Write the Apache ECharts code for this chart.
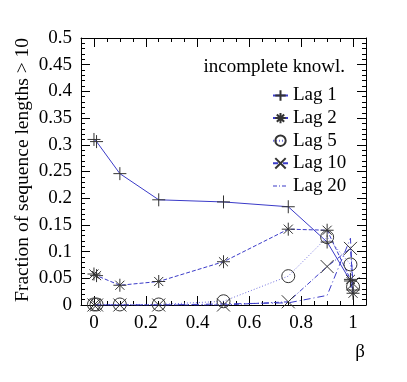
<!DOCTYPE html>
<html><head><meta charset="utf-8">
<script src="https://cdn.jsdelivr.net/npm/echarts@6/dist/echarts.min.js"></script>
<style>html,body{margin:0;padding:0;background:#fff}#c{width:407px;height:382px}</style>
</head><body><div id="c"></div>
<script>
var betas = [0, 0.01, 0.1, 0.25, 0.5, 0.75, 0.9, 0.99, 1];
var lag1  = [0.310, 0.306, 0.246, 0.197, 0.193, 0.184, 0.118, 0.045, 0.028];
var lag2  = [0.058, 0.055, 0.037, 0.044, 0.081, 0.142, 0.140, 0.048, 0.022];
var lag5  = [0.001, 0.001, 0.001, 0.001, 0.007, 0.054, 0.127, 0.076, 0.034];
var lag10 = [0.000, 0.000, 0.000, 0.000, 0.000, 0.006, 0.072, 0.106, 0.040];
var lag20 = [0.000, 0.000, 0.000, 0.000, 0.002, 0.004, 0.018, 0.125, 0.030];
var xMajor = [0, 0.2, 0.4, 0.6, 0.8, 1];
var seriesNames = ['Lag 1', 'Lag 2', 'Lag 5', 'Lag 10', 'Lag 20'];

function pairs(ys){ return betas.map(function(b,i){ return [b, ys[i]]; }); }
var FONT = 'Liberation Serif';
var BLUE = '#3a3ac8';
var LIGHT = '#7070dd';
var sym = {
  plus: 'path://M0,5L10,5M5,0L5,10',
  star: 'path://M0,5L10,5M5,0L5,10M1.5,1.5L8.5,8.5M8.5,1.5L1.5,8.5',
  cross: 'path://M0,0L10,10M10,0L0,10',
  dashIcon: 'path://M0,6h4v1h-4zM6,6h1v1h-1zM9,6h4v1h-4zM0,0h0.01v0.01h-0.01zM14.99,12.99h0.01v0.01h-0.01z'
};
function mk(name, ys, symbol, lineType, color){
  return {
    name: name, type: 'line', xAxisIndex: 0, yAxisIndex: 0,
    data: pairs(ys), symbol: symbol, symbolSize: 13, showSymbol: symbol !== 'none',
    lineStyle: {color: color, width: 1, type: lineType},
    itemStyle: {color: 'rgba(0,0,0,0)', borderColor: '#333', borderWidth: 1},
    animation: false, z: 3
  };
}
var grid = {left: 81, top: 38, width: 285, height: 267};
var chart = echarts.init(document.getElementById('c'));
chart.setOption({
  animation: false,
  grid: [Object.assign({}, grid), Object.assign({}, grid)],
  xAxis: [
    {gridIndex: 0, type: 'value', position: 'bottom', min: -0.05, max: 1.05,
     axisLine: {show: true, onZero: false, lineStyle: {color: '#000', width: 1}},
     axisTick: {inside: true, length: 9, customValues: xMajor, lineStyle: {color: '#000'}},
     axisLabel: {customValues: xMajor, margin: 9, color: '#000', fontFamily: FONT, fontSize: 19},
     splitLine: {show: false}},
    {gridIndex: 0, type: 'value', position: 'top', min: -0.05, max: 1.05,
     axisLine: {show: true, onZero: false, lineStyle: {color: '#000', width: 1}},
     axisTick: {inside: true, length: 9, customValues: xMajor, lineStyle: {color: '#000'}},
     axisLabel: {show: false}, splitLine: {show: false}},
    {gridIndex: 1, type: 'value', position: 'bottom', min: -0.05, max: 1.05, interval: 0.05,
     axisLine: {show: false, onZero: false},
     axisTick: {inside: true, length: 4, lineStyle: {color: '#000'}},
     axisLabel: {show: false}, splitLine: {show: false}},
    {gridIndex: 1, type: 'value', position: 'top', min: -0.05, max: 1.05, interval: 0.05,
     axisLine: {show: false, onZero: false},
     axisTick: {inside: true, length: 4, lineStyle: {color: '#000'}},
     axisLabel: {show: false}, splitLine: {show: false}}
  ],
  yAxis: [
    {gridIndex: 0, type: 'value', position: 'left', min: 0, max: 0.5, interval: 0.05,
     axisLine: {show: true, onZero: false, lineStyle: {color: '#000', width: 1}},
     axisTick: {inside: true, length: 9, lineStyle: {color: '#000'}},
     minorTick: {show: true, splitNumber: 5, length: 4, lineStyle: {color: '#000'}},
     axisLabel: {margin: 9, color: '#000', fontFamily: FONT, fontSize: 19,
       formatter: function(v){ return String(+v.toFixed(2)); }},
     splitLine: {show: false}},
    {gridIndex: 0, type: 'value', position: 'right', min: 0, max: 0.5, interval: 0.05,
     axisLine: {show: true, onZero: false, lineStyle: {color: '#000', width: 1}},
     axisTick: {inside: true, length: 9, lineStyle: {color: '#000'}},
     minorTick: {show: true, splitNumber: 5, length: 4, lineStyle: {color: '#000'}},
     axisLabel: {show: false}, splitLine: {show: false}},
    {gridIndex: 1, type: 'value', min: 0, max: 0.5, show: false}
  ],
  legend: {
    orient: 'vertical', left: 267, top: 81, itemGap: 3.6, itemWidth: 15, itemHeight: 13,
    data: [
      {name: 'Lag 1'}, {name: 'Lag 2'}, {name: 'Lag 5'}, {name: 'Lag 10'},
      {name: 'Lag 20', icon: sym.dashIcon, itemStyle: {color: BLUE, borderWidth: 0}}
    ],
    textStyle: {color: '#000', fontFamily: FONT, fontSize: 19, lineHeight: 19}
  },
  graphic: [
    {type: 'text', x: 345, y: 67, style: {text: 'incomplete knowl.', fill: '#000',
      font: '19px "Liberation Serif"', align: 'right', verticalAlign: 'middle'}},
    {type: 'text', x: 23, y: 38, rotation: Math.PI/2, style: {text: 'Fraction of sequence lengths > 10',
      fill: '#000', font: '19.5px "Liberation Serif"', align: 'right', verticalAlign: 'middle'}},
    {type: 'text', x: 360, y: 352, style: {text: 'β', fill: '#000',
      font: '19px "Liberation Serif"', align: 'center', verticalAlign: 'middle'}}
  ],
  series: [
    mk('Lag 1', lag1, sym.plus, 'solid', BLUE),
    mk('Lag 2', lag2, sym.star, [4, 2], BLUE),
    mk('Lag 5', lag5, 'circle', [1, 2], LIGHT),
    mk('Lag 10', lag10, sym.cross, [5, 2, 1, 2], BLUE),
    mk('Lag 20', lag20, 'none', [7, 3, 1, 3], BLUE)
  ]
});
</script></body></html>
